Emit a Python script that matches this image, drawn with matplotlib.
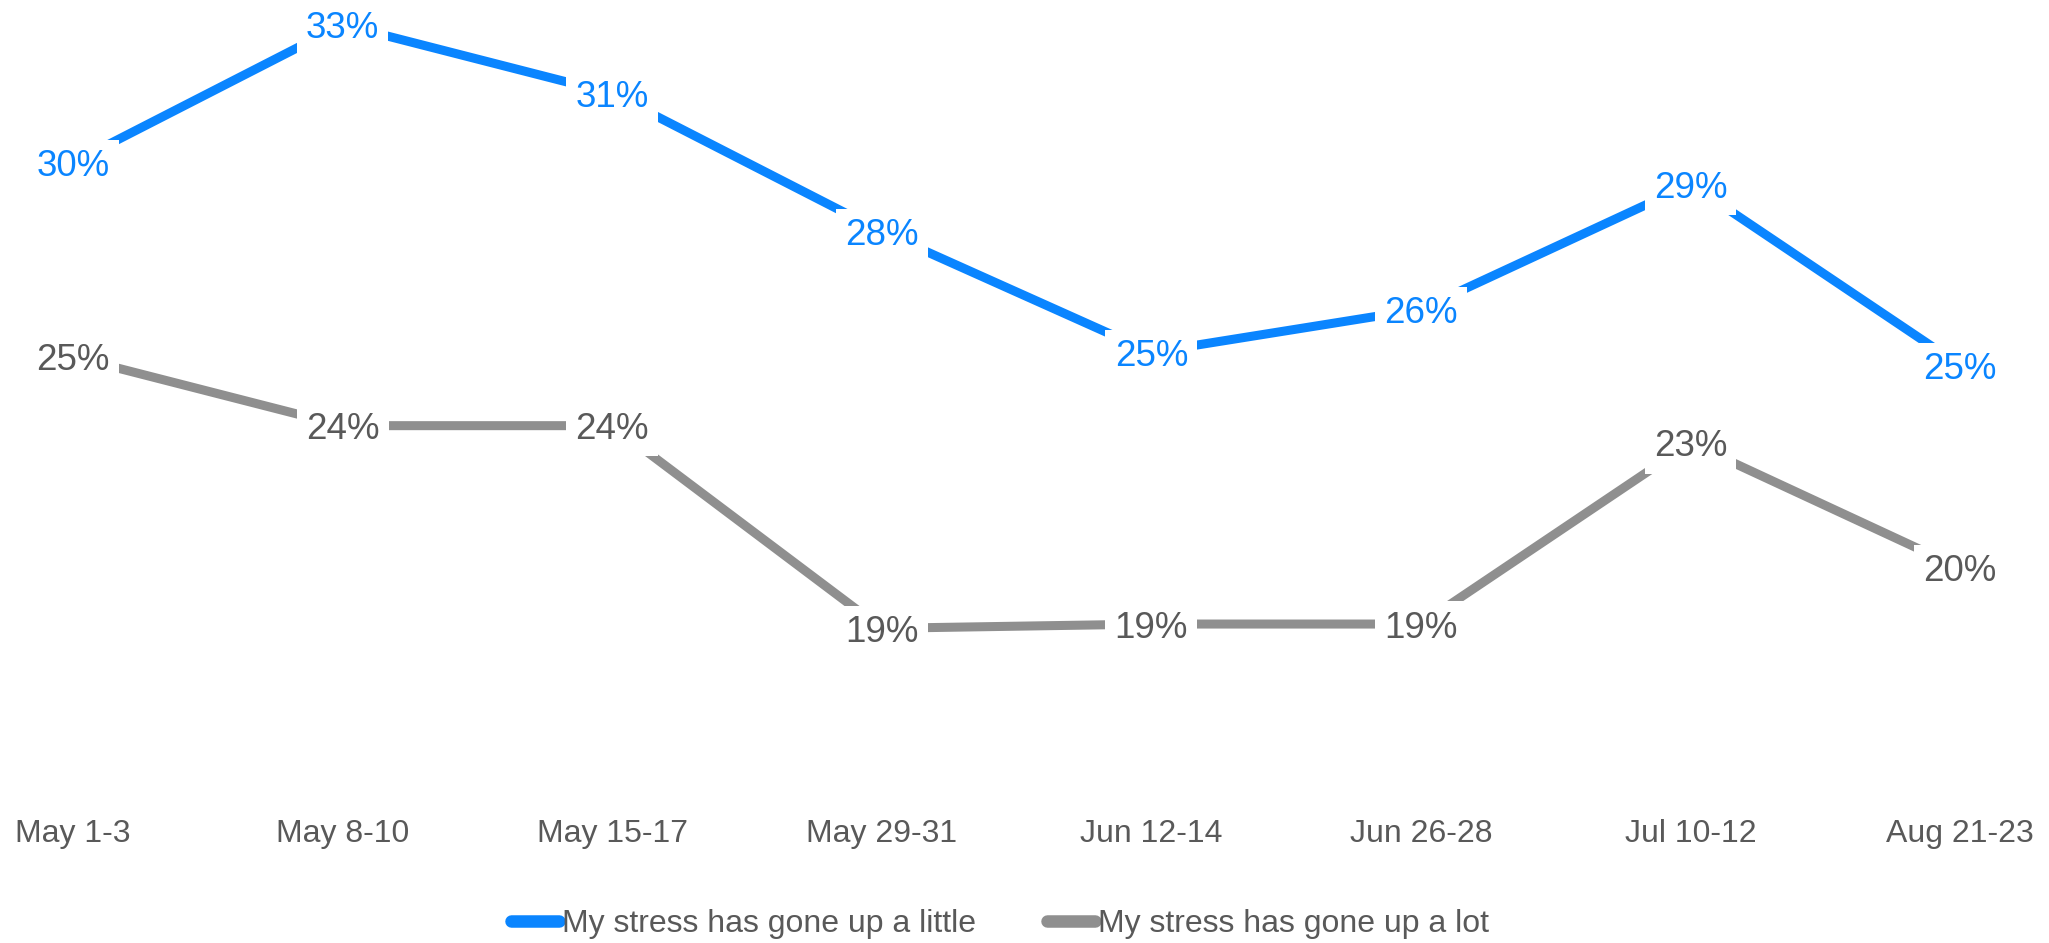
import matplotlib
matplotlib.use("Agg")
import matplotlib.pyplot as plt

plt.rcParams['font.family'] = ['Liberation Sans', 'DejaVu Sans']

# survey waves
waves = ["May 1-3", "May 8-10", "May 15-17", "May 29-31",
         "Jun 12-14", "Jun 26-28", "Jul 10-12", "Aug 21-23"]
# share of respondents, percent
up_little = [29.8, 33.0, 31.4, 28.2, 25.4, 26.4, 29.3, 25.1]
up_lot = [25.3, 23.7, 23.7, 19.0, 19.1, 19.1, 23.3, 20.4]

series_names = ["My stress has gone up a little", "My stress has gone up a lot"]
line_colors = ["#0A85FF", "#8F8F8F"]
text_colors = ["#0A85FF", "#595959"]

fig = plt.figure(figsize=(20.49, 9.43), dpi=100)
ax = fig.add_axes([0, 143 / 943, 1, 800 / 943])

x = list(range(len(waves)))
for vals, name, lc, tc in zip([up_little, up_lot], series_names, line_colors, text_colors):
    ax.plot(x, vals, color=lc, lw=6.5, solid_capstyle='butt', label=name, zorder=2)
    for xi, v in zip(x, vals):
        ax.text(xi, v, f"{v:.0f}%", ha='center', va='center_baseline', fontsize=26.5,
                color=tc, zorder=3, clip_on=False,
                bbox=dict(boxstyle='square,pad=0.25', fc='white', ec='none'))

ax.set_xlim(-0.271, 7.33)
ax.set_ylim(15.02, 33.57)
ax.set_xticks(x)
ax.set_xticklabels(waves, fontsize=23, color="#595959")
ax.set_yticks([])
ax.tick_params(axis='x', length=0, pad=14)
for s in ax.spines.values():
    s.set_visible(False)

handles = [plt.Line2D([], [], color=c, lw=9, solid_capstyle='round') for c in line_colors]
leg = fig.legend(handles, series_names, loc='center', ncol=2,
                 bbox_to_anchor=(1000 / 2049, 1 - 924 / 943), frameon=False,
                 fontsize=23, handlelength=1.5, handletextpad=0.1, columnspacing=2.2)
for t in leg.get_texts():
    t.set_color("#595959")

fig.savefig("out.png", dpi=100)
